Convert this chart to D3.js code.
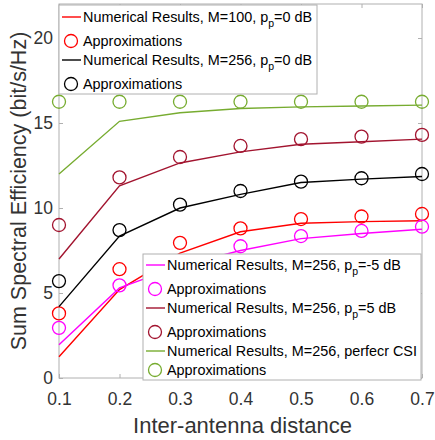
<!DOCTYPE html>
<html>
<head>
<meta charset="utf-8">
<script src="https://cdn.jsdelivr.net/npm/d3@7"></script>
<style>
  body { margin: 0; background: #fff; }
  svg { font-family: "Liberation Sans", Arial, sans-serif; }
</style>
</head>
<body>
<div id="chart"></div>
<script>
// x values (inter-antenna distance)
const distances = [0.1, 0.2, 0.3, 0.4, 0.5, 0.6, 0.7];

// numerical results (lines) and approximations (circles)
const m100p0Num   = [1.25, 5.2, 7.35, 8.6, 9.1, 9.2, 9.25];
const m100p0Appr  = [3.8, 6.4, 7.95, 8.8, 9.35, 9.5, 9.65];
const m256p0Num   = [4.2, 8.35, 10.0, 10.8, 11.5, 11.7, 11.85];
const m256p0Appr  = [5.7, 8.7, 10.2, 11.0, 11.55, 11.75, 12.0];
const m256pm5Num  = [1.95, 5.3, 6.6, 7.5, 8.2, 8.5, 8.75];
const m256pm5Appr = [2.95, 5.45, 6.8, 7.75, 8.35, 8.65, 8.9];
const m256p5Num   = [7.0, 11.3, 12.65, 13.3, 13.75, 13.9, 14.05];
const m256p5Appr  = [9.0, 11.8, 13.0, 13.65, 14.05, 14.2, 14.3];
const perfectNum  = [12.0, 15.1, 15.6, 15.85, 15.95, 16.0, 16.05];
const perfectAppr = [16.25, 16.25, 16.25, 16.25, 16.25, 16.25, 16.25];

const xTicks = [0.1, 0.2, 0.3, 0.4, 0.5, 0.6, 0.7];
const yTicks = [0, 5, 10, 15, 20];

const series = [
  { name: "M=100, ", sub: true, pp: "=0 dB", color: "#ff0000", num: m100p0Num, appr: m100p0Appr },
  { name: "M=256, ", sub: true, pp: "=0 dB", color: "#000000", num: m256p0Num, appr: m256p0Appr },
  { name: "M=256, ", sub: true, pp: "=-5 dB", color: "#ff00ff", num: m256pm5Num, appr: m256pm5Appr },
  { name: "M=256, ", sub: true, pp: "=5 dB", color: "#a2142f", num: m256p5Num, appr: m256p5Appr },
  { name: "M=256, perfecr CSI", sub: false, color: "#77ac30", num: perfectNum, appr: perfectAppr }
];

const W = 435, H = 440;
const margin = { top: 4, right: 13, bottom: 62, left: 59 };
const width = W - margin.left - margin.right,
      height = H - margin.top - margin.bottom;

const svg = d3.select("#chart").append("svg")
  .attr("width", W).attr("height", H);

const g = svg.append("g")
  .attr("transform", "translate(" + margin.left + "," + margin.top + ")");

const x = d3.scaleLinear().domain([0.1, 0.7]).range([0, width]);
const y = d3.scaleLinear().domain([0, 22]).range([height, 0]);

const axisColor = "#b0b0b0", textColor = "#333";

// axes box
g.append("rect")
  .attr("width", width).attr("height", height)
  .attr("fill", "none").attr("stroke", axisColor).attr("stroke-width", 1);

// bottom & top ticks
const xAxis = g.append("g").attr("transform", "translate(0," + height + ")")
  .call(d3.axisBottom(x).tickValues(xTicks).tickSizeInner(-4).tickSizeOuter(0).tickPadding(15).tickFormat(d3.format(".1f")));
g.append("g")
  .call(d3.axisTop(x).tickValues(xTicks).tickSizeInner(-4).tickSizeOuter(0).tickFormat(""));
const yAxis = g.append("g")
  .call(d3.axisLeft(y).tickValues(yTicks).tickSizeInner(-4).tickSizeOuter(0).tickPadding(6));
g.append("g").attr("transform", "translate(" + width + ",0)")
  .call(d3.axisRight(y).tickValues(yTicks).tickSizeInner(-4).tickSizeOuter(0).tickFormat(""));

g.selectAll(".domain").remove();
g.selectAll(".tick line").attr("stroke", axisColor);
g.selectAll(".tick text").attr("fill", textColor).style("font-size", "17.5px");
xAxis.selectAll(".tick text").attr("dy", "0.71em");

// axis labels
svg.append("text")
  .attr("x", margin.left + width / 2 + 2).attr("y", 433)
  .attr("text-anchor", "middle").attr("fill", textColor)
  .style("font-size", "22px")
  .text("Inter-antenna distance");

svg.append("text")
  .attr("transform", "translate(26,191) rotate(-90)")
  .attr("text-anchor", "middle").attr("fill", textColor)
  .style("font-size", "21.5px")
  .text("Sum Spectral Efficiency (bit/s/Hz)");

// lines and circles
const line = d3.line()
  .x(function(d, i) { return x(distances[i]); })
  .y(function(d) { return y(d); });

series.forEach(function(s) {
  g.append("path")
    .datum(s.num)
    .attr("d", line)
    .attr("fill", "none")
    .attr("stroke", s.color)
    .attr("stroke-width", 1.4);

  g.selectAll(null)
    .data(s.appr)
    .enter().append("circle")
    .attr("cx", function(d, i) { return x(distances[i]); })
    .attr("cy", function(d) { return y(d); })
    .attr("r", 6.5)
    .attr("fill", "none")
    .attr("stroke", s.color)
    .attr("stroke-width", 1.3);
});

// legends
function drawLegend(entries, x0, y0, x1, y1, firstRow) {
  const lg = svg.append("g");
  lg.append("rect")
    .attr("x", x0).attr("y", y0)
    .attr("width", x1 - x0).attr("height", y1 - y0)
    .attr("fill", "#fff").attr("stroke", axisColor).attr("stroke-width", 1);

  let cy = y0 + firstRow;
  entries.forEach(function(s) {
    // line item
    lg.append("line")
      .attr("x1", x0 + 3).attr("x2", x0 + 22)
      .attr("y1", cy).attr("y2", cy)
      .attr("stroke", s.color).attr("stroke-width", 1.4);
    const t = lg.append("text")
      .attr("x", x0 + 24).attr("y", cy + 5)
      .attr("fill", "#000").style("font-size", "14.4px");
    t.append("tspan").text("Numerical Results, " + s.name);
    if (s.sub) {
      t.append("tspan").text("p");
      t.append("tspan").attr("dy", 5).style("font-size", "10.5px").text("p");
      t.append("tspan").attr("dy", -5).text(s.pp);
    }
    cy += s.sub ? 24 : 19;

    // circle item
    lg.append("circle")
      .attr("cx", x0 + 12).attr("cy", cy).attr("r", 6.5)
      .attr("fill", "none").attr("stroke", s.color).attr("stroke-width", 1.3);
    lg.append("text")
      .attr("x", x0 + 24).attr("y", cy + 5)
      .attr("fill", "#000").style("font-size", "14.4px")
      .text("Approximations");
    cy += 19;
  });
}

drawLegend(series.slice(0, 2), 59, 5, 317, 94, 12);
drawLegend(series.slice(2), 143, 254, 421, 380, 11);
</script>
</body>
</html>
